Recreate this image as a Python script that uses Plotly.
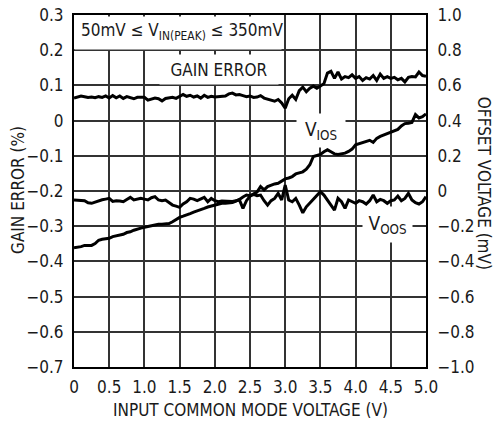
import plotly.graph_objects as go

FONT = "Liberation Sans Narrow, DejaVu Sans Condensed, Arial Narrow, sans-serif"

# Input common mode voltage (V), 0 to 5 V in 50 mV steps
GAIN_ERROR_PCT = [
    0.064, 0.066, 0.070, 0.068, 0.066, 0.067, 0.065, 0.068, 0.066, 0.070,
    0.064, 0.071, 0.065, 0.070, 0.063, 0.068, 0.066, 0.062, 0.066, 0.067,
    0.066, 0.058, 0.060, 0.064, 0.062, 0.056, 0.063, 0.064, 0.066, 0.063,
    0.068, 0.074, 0.069, 0.072, 0.067, 0.070, 0.064, 0.072, 0.066, 0.069,
    0.067, 0.068, 0.068, 0.070, 0.076, 0.078, 0.073, 0.074, 0.071, 0.068,
    0.070, 0.066, 0.067, 0.071, 0.064, 0.061, 0.058, 0.055, 0.060, 0.050,
    0.035, 0.062, 0.072, 0.060, 0.085, 0.095, 0.082, 0.092, 0.098, 0.092,
    0.098, 0.105, 0.135, 0.140, 0.120, 0.138, 0.118, 0.125, 0.122, 0.130,
    0.120, 0.125, 0.114, 0.122, 0.118, 0.128, 0.114, 0.132, 0.120, 0.125,
    0.120, 0.123, 0.116, 0.120, 0.110, 0.123, 0.125, 0.124, 0.138, 0.128,
    0.126,
]

V_IOS_MV = [
    -0.322, -0.320, -0.316, -0.309, -0.310, -0.309, -0.299, -0.280, -0.274, -0.272,
    -0.269, -0.259, -0.255, -0.251, -0.246, -0.236, -0.232, -0.223, -0.219, -0.211,
    -0.206, -0.202, -0.196, -0.190, -0.189, -0.189, -0.187, -0.185, -0.175, -0.162,
    -0.150, -0.143, -0.137, -0.128, -0.120, -0.114, -0.109, -0.099, -0.091, -0.086,
    -0.078, -0.074, -0.070, -0.070, -0.069, -0.065, -0.057, -0.048, -0.034, -0.023,
    -0.027, -0.017, -0.006, 0.025, 0.006, 0.025, 0.034, 0.040, 0.044, 0.057,
    0.069, 0.074, 0.082, 0.097, 0.105, 0.109, 0.124, 0.149, 0.196, 0.204,
    0.208, 0.223, 0.234, 0.223, 0.211, 0.208, 0.211, 0.215, 0.225, 0.238,
    0.263, 0.269, 0.272, 0.280, 0.288, 0.276, 0.299, 0.310, 0.318, 0.326,
    0.333, 0.345, 0.350, 0.370, 0.383, 0.385, 0.390, 0.434, 0.415, 0.422,
    0.438,
]

V_OOS_MV = [
    -0.051, -0.051, -0.053, -0.055, -0.067, -0.070, -0.063, -0.055, -0.050, -0.046,
    -0.042, -0.059, -0.055, -0.057, -0.061, -0.048, -0.036, -0.051, -0.048, -0.042,
    -0.046, -0.051, -0.038, -0.032, -0.051, -0.055, -0.051, -0.067, -0.080, -0.086,
    -0.093, -0.074, -0.061, -0.042, -0.046, -0.055, -0.044, -0.036, -0.061, -0.042,
    -0.055, -0.061, -0.057, -0.059, -0.061, -0.059, -0.055, -0.051, -0.099, -0.055,
    -0.029, -0.019, -0.027, -0.023, -0.055, -0.080, -0.055, -0.042, -0.013, -0.051,
    0.034, -0.051, -0.061, -0.042, -0.080, -0.124, -0.090, -0.070, -0.048, -0.029,
    -0.004, -0.023, -0.055, -0.080, -0.109, -0.042, -0.061, -0.099, -0.051, -0.061,
    -0.070, -0.055, -0.061, -0.074, -0.055, -0.023, -0.061, -0.048, -0.055, -0.070,
    -0.055, -0.051, -0.029, -0.055, -0.042, -0.013, -0.051, -0.067, -0.074, -0.061,
    -0.032,
]

VCM = [round(i * 0.05, 2) for i in range(len(GAIN_ERROR_PCT))]

X_TICKS = [0, 0.5, 1.0, 1.5, 2.0, 2.5, 3.0, 3.5, 4.0, 4.5, 5.0]
X_LABELS = ["0", "0.5", "1.0", "1.5", "2.0", "2.5", "3.0", "3.5", "4.0", "4.5", "5.0"]
Y1_TICKS = [0.3, 0.2, 0.1, 0, -0.1, -0.2, -0.3, -0.4, -0.5, -0.6, -0.7]
Y1_LABELS = ["0.3", "0.2", "0.1", "0", "−0.1", "−0.2", "−0.3", "−0.4", "−0.5", "−0.6", "−0.7"]
Y2_TICKS = [1.0, 0.8, 0.6, 0.4, 0.2, 0, -0.2, -0.4, -0.6, -0.8, -1.0]
Y2_LABELS = ["1.0", "0.8", "0.6", "0.4", "0.2", "0", "−0.2", "−0.4", "−0.6", "−0.8", "−1.0"]

LINE = dict(color="black", width=3)
AXIS = dict(ticks="outside", tickcolor="rgba(0,0,0,0)", automargin=False,
            zeroline=False, fixedrange=True, ticklabeloverflow="allow")
GRID = dict(showgrid=True, gridcolor="#333", gridwidth=2,
            showline=True, linecolor="black", linewidth=2, mirror=True)


def _label(text, x, y, w, h, **kw):
    # label on a white patch that hides the grid behind it
    return dict(text=text, x=x, y=y, xref="x", yref="y", showarrow=False,
                width=w, height=h, bgcolor="white", borderpad=0, **kw)


fig = go.Figure()

fig.add_trace(go.Scatter(x=VCM, y=GAIN_ERROR_PCT, mode="lines", name="Gain error",
                         line=LINE, showlegend=False))
fig.add_trace(go.Scatter(x=VCM, y=V_IOS_MV, mode="lines", name="VIOS",
                         line=LINE, yaxis="y2", showlegend=False))
fig.add_trace(go.Scatter(x=VCM, y=V_OOS_MV, mode="lines", name="VOOS",
                         line=LINE, yaxis="y2", showlegend=False))

fig.update_layout(
    template="none",
    width=494,
    height=423,
    margin=dict(l=74, r=68, t=15, b=56, autoexpand=False),
    plot_bgcolor="white",
    paper_bgcolor="white",
    font=dict(family=FONT, size=17, color="#1a1a1a"),
    xaxis=dict(range=[0, 5], tickvals=X_TICKS, ticktext=X_LABELS, ticklen=4,
               **GRID, **AXIS),
    yaxis=dict(range=[-0.7, 0.3], tickvals=Y1_TICKS, ticktext=Y1_LABELS, ticklen=5,
               **GRID, **AXIS),
    yaxis2=dict(range=[-1.0, 1.0], tickvals=Y2_TICKS, ticktext=Y2_LABELS, ticklen=7,
                overlaying="y", side="right", showgrid=False, **AXIS),
)

annotations = [
    _label(" ", 1.48, 0.25, 206, 32),
    dict(text="50mV ≤ V<sub>IN(PEAK)</sub> ≤ 350mV", x=0, y=0.252, xshift=5,
         xref="x", yref="y", xanchor="left", yanchor="middle", showarrow=False),
    _label("GAIN ERROR", 2.06, 0.145, 118, 29),
    _label("V<sub>IOS</sub>", 3.51, -0.027, 48, 33, font=dict(size=19)),
    _label("V<sub>OOS</sub>", 4.45, -0.295, 49, 35, font=dict(size=19)),
    dict(text="GAIN ERROR (%)", x=-0.159, y=0.503, xref="paper", yref="paper",
         xanchor="center", yanchor="middle", textangle=-90, showarrow=False),
    dict(text="OFFSET VOLTAGE (mV)", x=1.165, y=0.523, xref="paper", yref="paper",
         xanchor="center", yanchor="middle", textangle=90, showarrow=False),
    dict(text="INPUT COMMON MODE VOLTAGE (V)", x=0.5, y=-0.122, xref="paper",
         yref="paper", xanchor="center", yanchor="middle", showarrow=False),
]
fig.update_layout(annotations=annotations)

# drop the browser's default 8 px body margin so the chart sits at the page corner
fig.write_html("out.html", config={"displayModeBar": False, "staticPlot": True},
               post_script="document.body.style.margin = '0';")
